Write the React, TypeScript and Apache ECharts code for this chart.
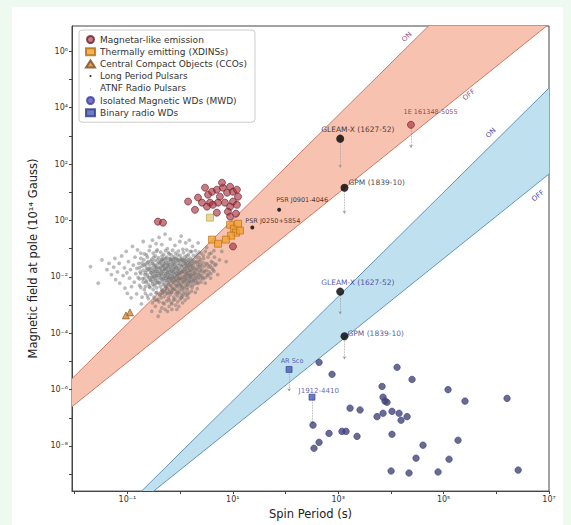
import React, { useEffect, useRef } from "react";
import * as echarts from "echarts";

const FONT = "DejaVu Sans, sans-serif";

// Axis ranges in decades (log10 of the plotted quantity)
const xRange = [-2.05, 7];
const yRange = [-9.6, 6.9];
const xLabelExps = [-1, 1, 3, 5, 7];
const yLabelExps = [-8, -6, -4, -2, 0, 2, 4, 6];
const xTickExps = [-2, -1, 0, 1, 2, 3, 4, 5, 6, 7];
const yTickExps = [-9, -8, -7, -6, -5, -4, -3, -2, -1, 0, 1, 2, 3, 4, 5, 6];

// [spin period (s), polar field (1e14 G)]
const magnetars: [number, number][] = [
  [0.38, 0.91], [0.475, 0.84], [1.42, 4.7], [2.19, 6.5], [2.61, 4.3], [3.4, 8.2], [4.05, 10.5],
  [5.0, 12.4], [5.7, 7.0], [6.5, 14.6], [7.8, 9.7], [8.9, 15.8], [10.1, 10.5], [12.0, 12.4],
  [12.6, 7.0], [3.7, 4.3], [3.25, 3.1], [4.2, 3.6], [5.25, 4.3], [7.1, 4.3], [8.9, 3.1],
  [10.1, 4.7], [12.0, 3.6], [8.1, 2.06], [8.9, 1.37], [5.0, 1.9], [10.1, 0.12], [6.25, 21.9],
  [2.98, 14.6], [1.92, 2.4], [11.5, 1.75],
];
const magnetarLabelled = { name: "1E 161348-5055", period: 24030, field: 2480 };

const xdins: [number, number][] = [
  [8.9, 0.71], [10.6, 0.51], [12.6, 0.77], [11.5, 0.37], [9.3, 0.29], [7.4, 0.21], [13.7, 0.44],
  [4.05, 0.21], [5.25, 0.15], [3.7, 1.26],
];

const ccos: [number, number][] = [[0.112, 5.5e-4], [0.094, 4.3e-4]];

const atnfPulsars: [number, number][] = [
  [0.02, 0.023], [0.028, 0.006], [0.033, 0.04],
  [0.041, 0.018], [0.045, 0.03], [0.05, 0.012], [0.055, 0.022], [0.06, 0.008], [0.058, 0.045],
  [0.065, 0.015], [0.07, 0.03], [0.072, 0.006], [0.078, 0.055], [0.083, 0.011], [0.088, 0.021],
  [0.09, 0.004], [0.095, 0.08], [0.098, 0.014], [0.1, 0.0026],
  [0.105, 0.035], [0.11, 0.009], [0.115, 0.018], [0.12, 0.0045], [0.125, 0.12], [0.13, 0.026],
  [0.135, 0.0065], [0.14, 0.05], [0.145, 0.013], [0.15, 0.0025], [0.152, 0.02], [0.156, 0.09],
  [0.16, 0.0095], [0.118, 0.0018],
  [0.165, 0.03], [0.17, 0.005], [0.175, 0.015], [0.18, 0.07], [0.185, 0.0011], [0.19, 0.024],
  [0.195, 0.0085], [0.2, 0.18], [0.205, 0.04], [0.21, 0.0035], [0.215, 0.012], [0.22, 0.028],
  [0.225, 0.0065], [0.23, 0.06], [0.235, 0.017], [0.24, 0.0021], [0.245, 0.01], [0.25, 0.035],
  [0.26, 0.0045], [0.265, 0.02], [0.27, 0.12], [0.28, 0.0075], [0.285, 0.014], [0.29, 0.0006],
  [0.3, 0.03], [0.305, 0.0095], [0.31, 0.0035], [0.315, 0.05], [0.32, 0.018], [0.33, 0.0015],
  [0.335, 0.0055], [0.34, 0.025], [0.35, 0.011], [0.355, 0.08], [0.36, 0.0028], [0.365, 0.016],
  [0.37, 0.04], [0.38, 0.007], [0.385, 0.0004], [0.39, 0.022], [0.395, 0.013], [0.4, 0.25],
  [0.41, 0.006], [0.415, 0.019], [0.42, 0.0022], [0.43, 0.035], [0.435, 0.011], [0.44, 0.0085],
  [0.45, 0.015], [0.455, 0.055], [0.46, 0.0032], [0.47, 0.024], [0.475, 0.0012], [0.48, 0.009],
  [0.49, 0.013], [0.5, 0.03], [0.505, 0.0055], [0.51, 0.018], [0.52, 0.0007], [0.53, 0.011],
  [0.54, 0.045], [0.545, 0.0042], [0.55, 0.021], [0.56, 0.0075], [0.57, 0.014], [0.575, 0.1],
  [0.58, 0.0026], [0.59, 0.027], [0.6, 0.0095], [0.61, 0.017], [0.62, 0.0015], [0.625, 0.065],
  [0.64, 0.012], [0.65, 0.005], [0.655, 0.022], [0.66, 0.0085], [0.67, 0.035], [0.68, 0.0028],
  [0.69, 0.016], [0.7, 0.0011], [0.71, 0.01], [0.72, 0.026], [0.73, 0.0065], [0.74, 0.014],
  [0.75, 0.045], [0.76, 0.0038], [0.77, 0.019], [0.78, 0.0095], [0.8, 0.0016], [0.81, 0.031],
  [0.82, 0.0075], [0.84, 0.013], [0.85, 0.0048], [0.86, 0.022], [0.87, 0.0007], [0.88, 0.011],
  [0.9, 0.06], [0.91, 0.0028], [0.92, 0.017], [0.94, 0.0085], [0.95, 0.038], [0.96, 0.0055],
  [0.98, 0.014], [0.99, 0.18],
  [1.02, 0.009], [1.05, 0.025], [1.07, 0.0045], [1.1, 0.015], [1.12, 0.0012], [1.15, 0.04],
  [1.17, 0.0072], [1.2, 0.019], [1.22, 0.011], [1.25, 0.0028], [1.27, 0.03], [1.3, 0.0085],
  [1.32, 0.014], [1.35, 0.055], [1.37, 0.0052], [1.4, 0.022], [1.42, 0.0018], [1.45, 0.012],
  [1.47, 0.035], [1.5, 0.0068], [1.52, 0.017], [1.55, 0.0095], [1.57, 0.08], [1.6, 0.026],
  [1.13, 0.095], [1.38, 0.0035], [1.08, 0.0022], [1.28, 0.16],
  [1.65, 0.012], [1.7, 0.0042], [1.75, 0.021], [1.8, 0.0075], [1.85, 0.035], [1.9, 0.014],
  [1.95, 0.0028], [2.0, 0.05], [2.05, 0.0095], [2.1, 0.018], [2.15, 0.028], [2.2, 0.0058],
  [2.25, 0.012], [2.3, 0.075], [2.35, 0.022], [2.4, 0.0085], [2.45, 0.04], [2.5, 0.015],
  [1.72, 0.12], [2.12, 0.0038],
  [2.6, 0.025], [2.7, 0.0095], [2.8, 0.045], [2.9, 0.016], [3.0, 0.006], [3.1, 0.03],
  [3.2, 0.11], [3.3, 0.012], [3.5, 0.022], [3.6, 0.065], [3.8, 0.009], [3.9, 0.035],
  [4.2, 0.018], [4.5, 0.05], [4.8, 0.028], [5.2, 0.012], [5.6, 0.04], [6.2, 0.08], [7.5, 0.035],
  // dense core
  [0.42, 0.0045], [0.42, 0.0091], [0.42, 0.014], [0.42, 0.021], [0.42, 0.03],
  [0.45, 0.0036], [0.45, 0.0068], [0.45, 0.012], [0.45, 0.018], [0.45, 0.026],
  [0.48, 0.0052], [0.48, 0.0083], [0.48, 0.016], [0.48, 0.024], [0.48, 0.037],
  [0.51, 0.0031], [0.51, 0.0072], [0.51, 0.0105], [0.51, 0.02], [0.51, 0.028],
  [0.54, 0.0046], [0.54, 0.0088], [0.54, 0.013], [0.54, 0.019], [0.54, 0.033],
  [0.57, 0.0039], [0.57, 0.0062], [0.57, 0.0098], [0.57, 0.015], [0.57, 0.025],
  [0.6, 0.0054], [0.6, 0.0079], [0.6, 0.012], [0.6, 0.022], [0.6, 0.031],
  [0.63, 0.0034], [0.63, 0.0066], [0.63, 0.0093], [0.63, 0.016], [0.63, 0.027],
  [0.67, 0.0048], [0.67, 0.0087], [0.67, 0.013], [0.67, 0.02], [0.67, 0.04],
  [0.71, 0.0041], [0.71, 0.0073], [0.71, 0.011], [0.71, 0.017], [0.71, 0.029],
  [0.75, 0.0058], [0.75, 0.0095], [0.75, 0.015], [0.75, 0.023], [0.75, 0.034],
  [0.79, 0.0036], [0.79, 0.0069], [0.79, 0.012], [0.79, 0.019], [0.79, 0.027],
  [0.84, 0.0052], [0.84, 0.0083], [0.84, 0.014], [0.84, 0.021], [0.84, 0.036],
  [0.89, 0.0044], [0.89, 0.0071], [0.89, 0.0105], [0.89, 0.016], [0.89, 0.025],
  [0.94, 0.0061], [0.94, 0.009], [0.94, 0.013], [0.94, 0.02], [0.94, 0.031],
  [1.0, 0.0048], [1.0, 0.0076], [1.0, 0.012], [1.0, 0.018], [1.0, 0.028],
  [1.06, 0.0055], [1.06, 0.0086], [1.06, 0.014], [1.06, 0.022], [1.06, 0.038],
  [1.12, 0.0042], [1.12, 0.0068], [1.12, 0.0099], [1.12, 0.016], [1.12, 0.026],
  [1.19, 0.0063], [1.19, 0.0092], [1.19, 0.015], [1.19, 0.024], [1.19, 0.033],
  [1.26, 0.005], [1.26, 0.0078], [1.26, 0.012], [1.26, 0.019], [1.26, 0.029],
  [1.33, 0.0068], [1.33, 0.0105], [1.33, 0.016], [1.33, 0.025], [1.33, 0.042],
  [1.41, 0.0057], [1.41, 0.0088], [1.41, 0.013], [1.41, 0.021], [1.41, 0.031],
  [1.5, 0.0072], [1.5, 0.011], [1.5, 0.017], [1.5, 0.027],
  [1.59, 0.0064], [1.59, 0.0097], [1.59, 0.015], [1.59, 0.023],
  [1.68, 0.0079], [1.68, 0.012], [1.68, 0.019], [1.68, 0.03],
  [1.78, 0.0069], [1.78, 0.0105], [1.78, 0.016], [1.78, 0.026],
  [1.89, 0.0088], [1.89, 0.013], [1.89, 0.021],
  [2.0, 0.0076], [2.0, 0.0115], [2.0, 0.018],
  [2.2, 0.0092], [2.2, 0.014], [2.2, 0.023],
  [2.4, 0.011], [2.4, 0.017], [2.4, 0.027],
  [0.36, 0.0062], [0.36, 0.011], [0.36, 0.019],
  [0.33, 0.0085], [0.33, 0.015], [0.33, 0.024],
  [0.3, 0.0056], [0.3, 0.012], [0.27, 0.0078], [0.27, 0.017],
  // upper fringe
  [0.3, 0.2], [0.45, 0.14], [0.65, 0.22], [0.8, 0.13], [1.05, 0.28], [0.52, 0.33], [1.5, 0.2],
  [2.2, 0.16], [0.35, 0.15],
  // upper part of the mass
  [0.18, 0.045], [0.21, 0.065], [0.24, 0.05], [0.26, 0.085], [0.29, 0.042], [0.31, 0.07],
  [0.34, 0.055], [0.37, 0.09], [0.39, 0.048], [0.43, 0.075], [0.46, 0.042], [0.49, 0.062],
  [0.53, 0.085], [0.56, 0.05], [0.6, 0.072], [0.64, 0.045], [0.68, 0.06], [0.72, 0.088],
  [0.77, 0.052], [0.82, 0.07], [0.87, 0.045], [0.93, 0.082], [1.0, 0.058], [1.08, 0.046],
  [1.16, 0.072], [1.24, 0.052], [1.34, 0.09], [1.44, 0.062], [1.56, 0.046], [1.66, 0.078],
  [1.8, 0.058], [1.95, 0.085], [2.1, 0.062], [2.3, 0.048], [2.5, 0.07], [2.75, 0.058],
  [3.0, 0.08], [3.4, 0.05], [3.9, 0.07], [4.4, 0.085],
  // lower part of the mass
  [0.19, 0.0019], [0.22, 0.0026], [0.25, 0.0017], [0.28, 0.0024], [0.32, 0.0019], [0.35, 0.0027],
  [0.38, 0.0016], [0.41, 0.0024], [0.44, 0.0018], [0.47, 0.0027], [0.5, 0.002], [0.55, 0.0025],
  [0.6, 0.0018], [0.65, 0.0023], [0.7, 0.0028], [0.76, 0.0019], [0.83, 0.0025], [0.9, 0.0021],
  [0.97, 0.0027], [1.05, 0.0018], [1.15, 0.0025], [1.3, 0.0022], [1.48, 0.0027], [1.65, 0.0031],
  [0.3, 0.0012], [0.34, 0.0009], [0.4, 0.0013], [0.45, 0.0008], [0.5, 0.0011], [0.56, 0.0014],
  [0.62, 0.0009], [0.68, 0.0012], [0.75, 0.0015], [0.82, 0.001], [0.9, 0.0013], [1.0, 0.0016],
  [1.1, 0.0019], [1.25, 0.0015], [0.58, 0.0006], [0.7, 0.0007], [0.42, 0.0006], [0.36, 0.0015],
  [0.95, 0.0009], [1.4, 0.0024],
  // left part of the mass
  [0.17, 0.0085], [0.17, 0.021], [0.18, 0.0042], [0.18, 0.013], [0.19, 0.031], [0.2, 0.0065],
  [0.2, 0.017], [0.21, 0.009], [0.21, 0.026], [0.22, 0.0045], [0.22, 0.014], [0.23, 0.021],
  [0.23, 0.0072], [0.24, 0.032], [0.24, 0.012], [0.25, 0.0055], [0.25, 0.019], [0.26, 0.0095],
  [0.26, 0.027], [0.27, 0.0042], [0.28, 0.014], [0.28, 0.036], [0.29, 0.0098], [0.29, 0.021],
  [0.3, 0.0068], [0.31, 0.016], [0.31, 0.028], [0.32, 0.0048], [0.32, 0.0105], [0.33, 0.038],
  [0.34, 0.0075], [0.34, 0.013], [0.35, 0.021], [0.36, 0.0041], [0.37, 0.0092], [0.37, 0.029],
  [0.38, 0.015], [0.39, 0.0062], [0.4, 0.011], [0.4, 0.033],
  // right part of the mass
  [2.5, 0.0065], [2.55, 0.011], [2.6, 0.019], [2.7, 0.032], [2.75, 0.0085], [2.85, 0.014],
  [2.95, 0.024], [3.05, 0.0095], [3.15, 0.017], [3.3, 0.028], [3.4, 0.011], [3.55, 0.015],
  [3.7, 0.025], [3.85, 0.013], [4.0, 0.021], [4.2, 0.032], [4.4, 0.016], [4.6, 0.026],
  // fill above and below the core
  [0.44, 0.041], [0.5, 0.044], [0.58, 0.038], [0.66, 0.043], [0.74, 0.04], [0.83, 0.044],
  [0.92, 0.039], [1.02, 0.043], [1.1, 0.035], [1.22, 0.041], [1.3, 0.035], [1.46, 0.04],
  [1.62, 0.036], [1.74, 0.042], [1.95, 0.032], [2.1, 0.036], [2.3, 0.034],
  [0.46, 0.0027], [0.53, 0.0033], [0.62, 0.0029], [0.73, 0.0035], [0.86, 0.0031], [0.99, 0.0036],
  [1.1, 0.0033], [1.2, 0.0039], [1.35, 0.0042], [1.55, 0.0048], [1.75, 0.0052], [1.95, 0.0058],
  [2.15, 0.0065],
];

const lptNames = ["GLEAM-X (1627-52)", "GPM (1839-10)", "PSR J0901-4046", "PSR J0250+5854"];
const lptPeriods = [1091, 1318, 75.9, 23.5];
const lptFieldNS = [800, 14.6, 2.4, 0.56];
const lptFieldWD = [0.003, 7.8e-5];

const binaryNames = ["AR Sco", "J1912-4410"];
const binaryPeriods = [117, 319];
const binaryFields = [5.2e-6, 5.4e-7];

const isolatedMWD: [number, number][] = [
  [434, 9.3e-6], [765, 3.5e-6], [13100, 6.2e-6], [25200, 2.3e-6], [6800, 1.3e-6], [121600, 1.0e-6],
  [7100, 5.4e-7], [7740, 3.9e-7], [8450, 3.55e-7], [255000, 3.9e-7], [1.6e6, 4.9e-7],
  [1680, 2.2e-7], [2600, 1.9e-7], [10500, 1.7e-7], [7100, 1.45e-7], [5460, 1.1e-7],
  [14300, 1.45e-7], [20300, 1.1e-7], [15600, 8.2e-8], [333, 5.5e-8], [671, 2.8e-8],
  [1180, 3.3e-8], [1410, 3.3e-8], [2280, 2.2e-8], [10500, 2.6e-8], [188000, 1.6e-8],
  [40700, 1.07e-8], [434, 1.35e-8], [348, 8.3e-9], [30000, 3.7e-9], [127000, 3.4e-9],
  [10100, 1.3e-9], [22100, 1.1e-9], [78500, 1.2e-9], [2.6e6, 1.4e-9],
];

// [period, field at marker, field at end of the downward limit]
const upperLimits: [number, number, number][] = [
  [1091, 800, 74], [1318, 14.6, 1.75], [24030, 2480, 380], [1091, 0.003, 4.7e-4],
  [1318, 7.8e-5, 1.2e-5], [117, 5.2e-6, 8.7e-7], [319, 5.4e-7, 5.9e-8],
];

// Death-line end points [period, field]
const nsOnLine: [number, number][] = [[0.00891, 2.44e-6], [1e7, 1.35e11]];
const nsOffLine: [number, number][] = [[0.00891, 2.48e-7], [1e7, 9.3e6]];
const wdOnLine: [number, number][] = [[0.00891, 9.1e-13], [1e7, 5.0e4]];
const wdOffLine: [number, number][] = [[0.00891, 1.19e-12], [1e7, 44.7]];

const L = Math.log10;
const xy = (p: number, b: number) => [L(p), L(b)];
const sup: Record<string, string> = {
  "-": "⁻", "0": "⁰", "1": "¹", "2": "²", "3": "³", "4": "⁴", "5": "⁵", "6": "⁶", "7": "⁷", "8": "⁸", "9": "⁹",
};
const pow10 = (e: number) => "10" + String(Math.round(e)).split("").map((c) => sup[c]).join("");

const bandSeries = (name: string, on: [number, number][], off: [number, number][], fill: string) => ({
  type: "custom",
  name,
  silent: true,
  clip: true,
  z: 1,
  data: [[0, 0]],
  renderItem: (_p: any, api: any) => ({
    type: "polygon",
    shape: {
      points: [
        ...on.map((d) => api.coord(xy(d[0], d[1]))),
        ...off.slice().reverse().map((d) => api.coord(xy(d[0], d[1]))),
      ],
    },
    style: { fill },
  }),
});

const edgeSeries = (pts: [number, number][], color: string) => ({
  type: "line",
  silent: true,
  z: 2,
  symbol: "none",
  data: pts.map((d) => xy(d[0], d[1])),
  lineStyle: { color, width: 1 },
});

const labelStyle = (dx: number, dy: number, color: string, size = 7.5) => ({
  show: true,
  position: [dx, dy],
  align: "left",
  verticalAlign: "middle",
  fontSize: size,
  fontFamily: FONT,
  color,
});

const smallDot = "path://M0,0M10,10M3.5,5a1.5,1.5 0 1,0 3,0a1.5,1.5 0 1,0 -3,0z";
const tinyDot = "path://M0,0M10,10M4.2,5a0.8,0.8 0 1,0 1.6,0a0.8,0.8 0 1,0 -1.6,0z";

const option: any = {
  animation: false,
  textStyle: { fontFamily: FONT },
  grid: { left: 72, top: 26, width: 477, height: 466, show: true, borderColor: "#444", borderWidth: 1 },
  xAxis: {
    type: "value",
    min: xRange[0],
    max: xRange[1],
    name: "Spin Period (s)",
    nameLocation: "middle",
    nameGap: 13,
    nameTextStyle: { fontSize: 11.5, color: "#222", fontFamily: FONT },
    axisLine: { show: true, onZero: false, lineStyle: { color: "#444", width: 1 } },
    axisTick: { show: true, customValues: xTickExps, length: 3, lineStyle: { color: "#444" } },
    axisLabel: { customValues: xLabelExps, formatter: (v: number) => pow10(v), fontSize: 8, color: "#333", margin: 4, fontFamily: FONT },
    splitLine: { show: false },
  },
  yAxis: {
    type: "value",
    min: yRange[0],
    max: yRange[1],
    name: "Magnetic field at pole (10¹⁴ Gauss)",
    nameLocation: "middle",
    nameGap: 27,
    nameTextStyle: { fontSize: 11.5, color: "#222", fontFamily: FONT },
    axisLine: { show: true, onZero: false, lineStyle: { color: "#444", width: 1 } },
    axisTick: { show: true, customValues: yTickExps, length: 3, lineStyle: { color: "#444" } },
    axisLabel: { customValues: yLabelExps, formatter: (v: number) => pow10(v), fontSize: 8, color: "#333", margin: 4, fontFamily: FONT },
    splitLine: { show: false },
  },
  legend: {
    orient: "vertical",
    left: 79,
    top: 30,
    itemWidth: 9,
    itemHeight: 7,
    itemGap: 3.2,
    padding: [5, 8, 5, 6],
    backgroundColor: "rgba(255,255,255,0.85)",
    borderColor: "#ccc",
    borderWidth: 1,
    borderRadius: 3,
    textStyle: { fontSize: 9, color: "#333", fontFamily: FONT },
    data: [
      { name: "Magnetar-like emission", icon: "circle" },
      { name: "Thermally emitting (XDINSs)", icon: "rect" },
      { name: "Central Compact Objects (CCOs)", icon: "triangle" },
      { name: "Long Period Pulsars", icon: smallDot },
      { name: "ATNF Radio Pulsars", icon: tinyDot },
      { name: "Isolated Magnetic WDs (MWD)", icon: "circle", itemStyle: { color: "#5656b0" } },
      { name: "Binary radio WDs", icon: "rect", itemStyle: { color: "#4a5bb5" } },
    ],
  },
  graphic: [
    { type: "text", x: 407, y: 37, rotation: 0.785, style: { text: "ON", fill: "#9a4f78", font: `7px ${FONT}`, textAlign: "center", textVerticalAlign: "middle" } },
    { type: "text", x: 469, y: 95, rotation: 0.68, style: { text: "OFF", fill: "#9a4f78", font: `7px ${FONT}`, textAlign: "center", textVerticalAlign: "middle" } },
    { type: "text", x: 491, y: 133, rotation: 0.785, style: { text: "ON", fill: "#4a4aa8", font: `7px ${FONT}`, textAlign: "center", textVerticalAlign: "middle" } },
    { type: "text", x: 538, y: 196, rotation: 0.68, style: { text: "OFF", fill: "#4a4aa8", font: `7px ${FONT}`, textAlign: "center", textVerticalAlign: "middle" } },
    { type: "text", x: 435, y: 53, rotation: 0.74, style: { text: "NS Pulsar\nDeath Valley", fill: "#c0504d", font: `7px ${FONT}`, textAlign: "center", textVerticalAlign: "middle", lineHeight: 8 } },
    { type: "text", x: 513, y: 150, rotation: 0.74, style: { text: "Magnetic WD\nDeath Valley", fill: "#3a6ea8", font: `7px ${FONT}`, textAlign: "center", textVerticalAlign: "middle", lineHeight: 8 } },
  ],
  series: [
    bandSeries("nsBand", nsOnLine, nsOffLine, "#f8c2b1"),
    bandSeries("wdBand", wdOnLine, wdOffLine, "#bfe0ef"),
    edgeSeries(nsOnLine, "#c97a68"),
    edgeSeries(nsOffLine, "#c97a68"),
    edgeSeries(wdOnLine, "#6593bd"),
    edgeSeries(wdOffLine, "#6593bd"),
    {
      type: "lines",
      coordinateSystem: "cartesian2d",
      silent: true,
      z: 3,
      symbol: ["none", "arrow"],
      symbolSize: 3,
      lineStyle: { color: "#999", width: 0.8, type: "dotted", opacity: 1 },
      data: upperLimits.map((d) => ({ coords: [xy(d[0], d[1]), xy(d[0], d[2])] })),
    },
    {
      type: "scatter",
      name: "ATNF Radio Pulsars",
      z: 4,
      symbol: "circle",
      symbolSize: 3.8,
      itemStyle: { color: "rgba(112,112,112,0.6)" },
      data: atnfPulsars.map((d) => xy(d[0], d[1])),
    },
    {
      type: "scatter",
      name: "Central Compact Objects (CCOs)",
      z: 5,
      symbol: "triangle",
      symbolSize: 7,
      itemStyle: { color: "#d98a2e", borderColor: "#7a4b1c", borderWidth: 0.8 },
      data: ccos.map((d) => xy(d[0], d[1])),
    },
    {
      type: "scatter",
      name: "Thermally emitting (XDINSs)",
      z: 6,
      symbol: "rect",
      symbolSize: 7,
      itemStyle: { color: "#f0a030", borderColor: "#b86a10", borderWidth: 0.8 },
      data: xdins.map((d, i) =>
        i === xdins.length - 1
          ? { value: xy(d[0], d[1]), itemStyle: { color: "#e2cc7c", borderColor: "#b59a4a" } }
          : xy(d[0], d[1])
      ),
    },
    {
      type: "scatter",
      name: "Magnetar-like emission",
      z: 7,
      symbol: "circle",
      symbolSize: 7,
      itemStyle: { color: "rgba(165,50,62,0.8)", borderColor: "#6e1a24", borderWidth: 0.8 },
      data: [
        ...magnetars.map((d) => xy(d[0], d[1])),
        {
          value: xy(magnetarLabelled.period, magnetarLabelled.field),
          label: { ...labelStyle(-3.5, -8.5, "#7a2030", 6.5), formatter: magnetarLabelled.name },
        },
      ],
    },
    {
      type: "scatter",
      name: "Isolated Magnetic WDs (MWD)",
      z: 7,
      symbol: "circle",
      symbolSize: 6.5,
      itemStyle: { color: "#45476a", borderColor: "#3a3aa6", borderWidth: 0.8 },
      data: isolatedMWD.map((d) => xy(d[0], d[1])),
    },
    {
      type: "scatter",
      name: "Binary radio WDs",
      z: 8,
      symbol: "rect",
      symbolSize: 6,
      itemStyle: { color: "#4a5bb5", borderColor: "#2d3a8a", borderWidth: 0.8 },
      data: [
        { value: xy(binaryPeriods[0], binaryFields[0]), label: { ...labelStyle(-5, -5, "#3a3aa0", 6.5), formatter: binaryNames[0] } },
        { value: xy(binaryPeriods[1], binaryFields[1]), label: { ...labelStyle(-10, -3, "#3a3aa0", 7), formatter: binaryNames[1] } },
      ],
    },
    {
      type: "scatter",
      name: "Long Period Pulsars",
      z: 9,
      symbol: "circle",
      itemStyle: { color: "#000" },
      data: [
        { value: xy(lptPeriods[0], lptFieldNS[0]), symbolSize: 8, label: { ...labelStyle(-15, -5, "#111"), formatter: lptNames[0] } },
        { value: xy(lptPeriods[1], lptFieldNS[1]), symbolSize: 8, label: { ...labelStyle(8, -1, "#111"), formatter: lptNames[1] } },
        { value: xy(lptPeriods[2], lptFieldNS[2]), symbolSize: 4, label: { ...labelStyle(-1, -8, "#111", 6.5), formatter: lptNames[2] } },
        { value: xy(lptPeriods[3], lptFieldNS[3]), symbolSize: 4, label: { ...labelStyle(-5, -5, "#111", 6.5), formatter: lptNames[3] } },
        { value: xy(lptPeriods[0], lptFieldWD[0]), symbolSize: 8, label: { ...labelStyle(-15, -5, "#2b2b8f"), formatter: lptNames[0] } },
        { value: xy(lptPeriods[1], lptFieldWD[1]), symbolSize: 8, label: { ...labelStyle(7, 1, "#2b2b8f"), formatter: lptNames[1] } },
      ],
    },
  ],
};

export default function App() {
  const ref = useRef<HTMLDivElement>(null);
  useEffect(() => {
    const chart = echarts.init(ref.current!, null, { renderer: "svg" });
    chart.setOption(option);
    return () => chart.dispose();
  }, []);
  return (
    <div style={{ position: "fixed", left: 0, top: 0, width: 571, height: 525, background: "#eefaf0" }}>
      <div style={{ position: "absolute", left: 12, top: 7, width: 551, height: 518, background: "#fff" }} />
      <div ref={ref} style={{ position: "absolute", left: 0, top: 0, width: 571, height: 525 }} />
    </div>
  );
}
